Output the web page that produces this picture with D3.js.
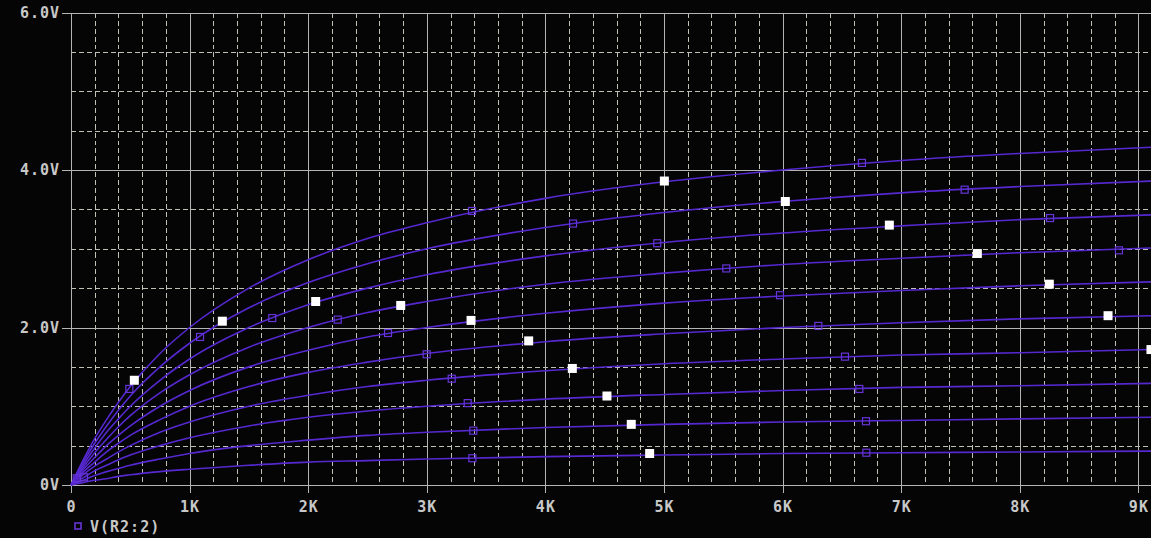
<!DOCTYPE html>
<html>
<head>
<meta charset="utf-8">
<script src="https://d3js.org/d3.v7.min.js"></script>
<style>
    html, body {
        margin: 0;
        padding: 0;
        background: #050505;
    }

    svg text {
        font: bold 15px 'DejaVu Sans Mono', monospace;
        fill: #c8c8c8;
        letter-spacing: 1px;
    }

    .grid-major line {
        stroke: #b4b4b4;
        stroke-width: 1;
        shape-rendering: crispEdges;
    }

    .grid-minor line {
        stroke: #c0c0b4;
        stroke-width: 1;
        stroke-dasharray: 5, 3;
        shape-rendering: crispEdges;
    }

    .trace {
        fill: none;
        stroke: #5628d0;
        stroke-width: 1.6;
    }

    .mark-hollow {
        fill: none;
        stroke: #6634d8;
        stroke-width: 1.2;
    }

    .mark-white {
        fill: #ffffff;
    }

    .axis line {
        stroke: #b4b4b4;
        stroke-width: 1;
        shape-rendering: crispEdges;
    }

    .axis path.domain {
        display: none;
    }
</style>
</head>
<body>
<svg id="probe" width="1151" height="538"></svg>

<script>
    // R2 sweep (ohms) where the traces were read
    const sweepR = [0, 100, 200, 300, 400, 500, 750, 1000, 1500, 2000, 2500, 3000, 4000, 5000, 6000, 7000, 8000, 9110];

    // V(R2:2), one run per parameter step, bottom to top
    const run1 = [0, 0.03, 0.06, 0.08, 0.11, 0.13, 0.17, 0.20, 0.25, 0.29, 0.31, 0.33, 0.36, 0.38, 0.40, 0.41, 0.42, 0.43];
    const run2 = [0, 0.06, 0.12, 0.17, 0.21, 0.25, 0.33, 0.40, 0.50, 0.57, 0.63, 0.67, 0.73, 0.77, 0.80, 0.82, 0.84, 0.86];
    const run3 = [0, 0.09, 0.18, 0.25, 0.32, 0.38, 0.50, 0.60, 0.75, 0.86, 0.94, 1.00, 1.09, 1.15, 1.20, 1.24, 1.26, 1.29];
    const run4 = [0, 0.13, 0.24, 0.33, 0.42, 0.50, 0.67, 0.80, 1.00, 1.14, 1.25, 1.33, 1.45, 1.54, 1.60, 1.65, 1.68, 1.72];
    const run5 = [0, 0.16, 0.29, 0.42, 0.53, 0.63, 0.83, 1.00, 1.25, 1.43, 1.56, 1.67, 1.82, 1.92, 2.00, 2.06, 2.11, 2.15];
    const run6 = [0, 0.19, 0.35, 0.50, 0.63, 0.75, 1.00, 1.20, 1.50, 1.71, 1.88, 2.00, 2.18, 2.31, 2.40, 2.47, 2.53, 2.58];
    const run7 = [0, 0.22, 0.41, 0.58, 0.74, 0.88, 1.17, 1.40, 1.75, 2.00, 2.19, 2.33, 2.55, 2.69, 2.80, 2.88, 2.95, 3.01];
    const run8 = [0, 0.25, 0.47, 0.67, 0.84, 1.00, 1.33, 1.60, 2.00, 2.29, 2.50, 2.67, 2.91, 3.08, 3.20, 3.29, 3.37, 3.43];
    const run9 = [0, 0.28, 0.53, 0.75, 0.95, 1.13, 1.50, 1.80, 2.25, 2.57, 2.81, 3.00, 3.27, 3.46, 3.60, 3.71, 3.79, 3.86];
    const run10 = [0, 0.31, 0.59, 0.83, 1.05, 1.25, 1.67, 2.00, 2.50, 2.86, 3.13, 3.33, 3.64, 3.85, 4.00, 4.12, 4.21, 4.29];
    const runs = [run1, run2, run3, run4, run5, run6, run7, run8, run9, run10];

    // trace symbols (hollow squares) as R, V pairs
    const symbolR = [48, 110, 492, 1088, 1697, 2249, 2673, 2999, 3210, 3345, 3392, 3384, 3381, 4233, 4943, 5525, 5978, 6301, 6526, 6647, 6703, 6706, 6669, 7535, 8255, 8836];
    const symbolV = [0.085, 0.098, 1.22, 1.88, 2.12, 2.10, 1.93, 1.66, 1.35, 1.04, 0.69, 0.34, 3.48, 3.32, 3.07, 2.75, 2.41, 2.02, 1.63, 1.22, 0.81, 0.41, 4.09, 3.75, 3.39, 2.98];

    // white filled squares
    const whiteR = [534, 1276, 2063, 2780, 3373, 3859, 4227, 4519, 4724, 4879, 5003, 6023, 6900, 7642, 8249, 8744, 9106];
    const whiteV = [1.33, 2.08, 2.33, 2.28, 2.09, 1.83, 1.48, 1.13, 0.77, 0.40, 3.86, 3.60, 3.30, 2.94, 2.55, 2.15, 1.72];

    const xTickValues = [0, 1000, 2000, 3000, 4000, 5000, 6000, 7000, 8000, 9000];
    const xTickLabels = ["0", "1K", "2K", "3K", "4K", "5K", "6K", "7K", "8K", "9K"];
    const yTickValues = [0, 2, 4, 6];
    const yTickLabels = ["0V", "2.0V", "4.0V", "6.0V"];
    const legendLabel = "V(R2:2)";

    const plot = { left: 71, right: 1151, top: 12.5, bottom: 485 };
</script>

<script>
    let svg = d3.select("svg#probe");

    let xScale = d3.scaleLinear()
        .domain([0, 9000])
        .range([plot.left, plot.left + 9 * 118.6]);
    let yScale = d3.scaleLinear()
        .domain([0, 6])
        .range([plot.bottom, plot.top]);
    // snap grid to pixel centres so every line is 1px
    const px = v => Math.round(v) + 0.5;

    // minor (dashed) grid
    let minorX = d3.range(200, 9200, 200).filter(v => v % 1000 != 0 && xScale(v) < plot.right);
    let minorY = d3.range(0.5, 6, 0.5).filter(v => v % 2 != 0);
    let gMinor = svg.append("g").attr("class", "grid-minor");
    gMinor.selectAll("line.vx")
        .data(minorX)
        .enter()
        .append("line")
        .attr("class", "vx")
        .attr("x1", d => px(xScale(d))).attr("x2", d => px(xScale(d)))
        .attr("y1", plot.top).attr("y2", plot.bottom);
    gMinor.selectAll("line.hy")
        .data(minorY)
        .enter()
        .append("line")
        .attr("class", "hy")
        .attr("x1", plot.left).attr("x2", plot.right)
        .attr("y1", d => px(yScale(d))).attr("y2", d => px(yScale(d)));

    // major (solid) grid
    let gMajor = svg.append("g").attr("class", "grid-major");
    gMajor.selectAll("line.vx")
        .data(xTickValues)
        .enter()
        .append("line")
        .attr("class", "vx")
        .attr("x1", d => px(xScale(d))).attr("x2", d => px(xScale(d)))
        .attr("y1", plot.top).attr("y2", plot.bottom);
    gMajor.selectAll("line.hy")
        .data(yTickValues)
        .enter()
        .append("line")
        .attr("class", "hy")
        .attr("x1", plot.left).attr("x2", plot.right)
        .attr("y1", d => px(yScale(d))).attr("y2", d => px(yScale(d)));

    // axes: outside ticks + labels
    svg.append("g")
        .attr("class", "axis")
        .attr("transform", `translate(${plot.left},0)`)
        .call(d3.axisLeft(yScale)
            .tickValues(yTickValues)
            .tickFormat((d, i) => yTickLabels[i])
            .tickSize(9)
            .tickPadding(2));
    svg.append("g")
        .attr("class", "axis")
        .attr("transform", `translate(0,${plot.bottom})`)
        .call(d3.axisBottom(xScale)
            .tickValues(xTickValues)
            .tickFormat((d, i) => xTickLabels[i])
            .tickSize(8)
            .tickPadding(8));
    svg.selectAll(".axis text")
        .attr("fill", null)
        .attr("font-size", null)
        .attr("font-family", null);

    // traces
    let lineGen = d3.line()
        .x((d, i) => xScale(sweepR[i]))
        .y(d => yScale(d))
        .curve(d3.curveMonotoneX);
    svg.append("g")
        .selectAll("path.trace")
        .data(runs)
        .enter()
        .append("path")
        .attr("class", "trace")
        .attr("d", lineGen);

    // symbols
    svg.append("g")
        .selectAll("rect")
        .data(symbolR)
        .enter()
        .append("rect")
        .attr("class", "mark-hollow")
        .attr("x", d => xScale(d) - 3.5)
        .attr("y", (d, i) => yScale(symbolV[i]) - 3.5)
        .attr("width", 7)
        .attr("height", 7);

    svg.append("g")
        .selectAll("rect")
        .data(whiteR)
        .enter()
        .append("rect")
        .attr("class", "mark-white")
        .attr("x", d => xScale(d) - 4.5)
        .attr("y", (d, i) => yScale(whiteV[i]) - 4.5)
        .attr("width", 9)
        .attr("height", 9);

    // legend
    let legend = svg.append("g").attr("transform", "translate(78,526)");
    legend.append("rect")
        .attr("class", "mark-hollow")
        .attr("x", -3).attr("y", -3)
        .attr("width", 6).attr("height", 6)
        .style("stroke-width", 1.6);
    legend.append("text")
        .attr("x", 12)
        .attr("y", 5.5)
        .text(legendLabel);
</script>
</body>
</html>
